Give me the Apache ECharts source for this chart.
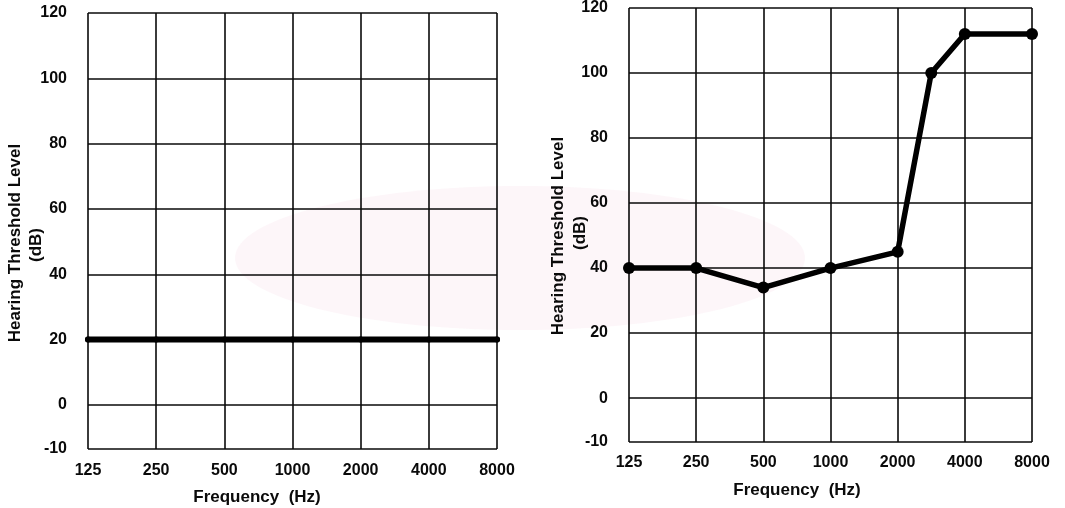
<!DOCTYPE html>
<html>
<head>
<meta charset="utf-8">
<script src="https://cdn.jsdelivr.net/npm/echarts@6/dist/echarts.min.js"></script>
<style>
  html, body { margin: 0; padding: 0; background: #ffffff; }
  #chart { width: 1065px; height: 508px; }
</style>
</head>
<body>
<div id="chart"></div>
<script>
// Audiogram frequencies, one octave per column
const freqLabels = ['125', '250', '500', '1000', '2000', '4000', '8000'];

// Threshold axis: bottom row is labelled -10, grid every 20 dB
const yMin = -13.5;
const yMax = 120;
const yTickValues = [yMin, 0, 20, 40, 60, 80, 100, 120];
const yTickLabels = ['-10', '0', '20', '40', '60', '80', '100', '120'];

// Left audiogram: flat 20 dB line across all octaves
const leftX = [0, 1, 2, 3, 4, 5, 6];
const leftDb = [20, 20, 20, 20, 20, 20, 20];

// Right audiogram: measured thresholds (3000 Hz sits halfway between 2000 and 4000)
const rightX = [0, 1, 2, 3, 4, 4.5, 5, 6];
const rightDb = [40, 40, 34, 40, 45, 100, 112, 112];

const FONT = '"Liberation Sans", Arial, sans-serif';
const INK = '#0a0a0a';

function pairs(xs, ys) { return xs.map((x, i) => [x, ys[i]]); }

function xAxisFor(gridIndex, margin) {
  return {
    gridIndex: gridIndex,
    type: 'value',
    min: 0, max: freqLabels.length - 1, interval: 1,
    axisLine: { show: false },
    axisTick: { show: false },
    splitLine: { show: true, lineStyle: { color: INK, width: 1.6 } },
    axisLabel: {
      margin: margin,
      color: INK, fontFamily: FONT, fontWeight: 'bold', fontSize: 16,
      formatter: v => freqLabels[Math.round(v)]
    }
  };
}

function yAxisFor(gridIndex) {
  return {
    gridIndex: gridIndex,
    type: 'value',
    min: yMin, max: yMax,
    axisLine: { show: false },
    axisTick: { show: false, customValues: yTickValues },
    splitLine: { show: true, lineStyle: { color: INK, width: 1.6 } },
    axisLabel: {
      customValues: yTickValues,
      margin: 21,
      color: INK, fontFamily: FONT, fontWeight: 'bold', fontSize: 16,
      formatter: v => yTickLabels[yTickValues.indexOf(v)]
    }
  };
}

function titleText(x, y, text, rotate) {
  return {
    type: 'text',
    x: x, y: y,
    rotation: rotate ? Math.PI / 2 : 0,
    style: {
      text: text, fill: INK,
      font: 'bold 17px ' + FONT,
      align: 'center', verticalAlign: 'middle'
    },
    z: 10
  };
}

const chart = echarts.init(document.getElementById('chart'), null, { renderer: 'canvas' });

chart.setOption({
  backgroundColor: '#ffffff',
  animation: false,
  grid: [
    { left: 88, top: 13, width: 409, height: 436 },
    { left: 629, top: 7, width: 403, height: 435 }
  ],
  xAxis: [xAxisFor(0, 14), xAxisFor(1, 13)],
  yAxis: [yAxisFor(0), yAxisFor(1)],
  series: [
    {
      type: 'line',
      xAxisIndex: 0, yAxisIndex: 0,
      data: pairs(leftX, leftDb),
      symbol: 'circle', symbolSize: 6,
      itemStyle: { color: '#000000' },
      lineStyle: { color: '#000000', width: 6, cap: 'round' },
      z: 5
    },
    {
      type: 'line',
      xAxisIndex: 1, yAxisIndex: 1,
      data: pairs(rightX, rightDb),
      symbol: 'circle', symbolSize: 12,
      itemStyle: { color: '#000000' },
      lineStyle: { color: '#000000', width: 5.5, join: 'round' },
      z: 5
    }
  ],
  graphic: [
    {
      type: 'ellipse',
      shape: { cx: 520, cy: 258, rx: 285, ry: 72 },
      style: { fill: 'rgba(248, 215, 226, 0.22)' },
      silent: true, z: -10
    },
    titleText(15, 243, 'Hearing Threshold Level', true),
    titleText(36, 245, '(dB)', true),
    titleText(558, 236, 'Hearing Threshold Level', true),
    titleText(580, 233, '(dB)', true),
    titleText(257, 497, 'Frequency  (Hz)', false),
    titleText(797, 490, 'Frequency  (Hz)', false)
  ]
});
</script>
</body>
</html>
